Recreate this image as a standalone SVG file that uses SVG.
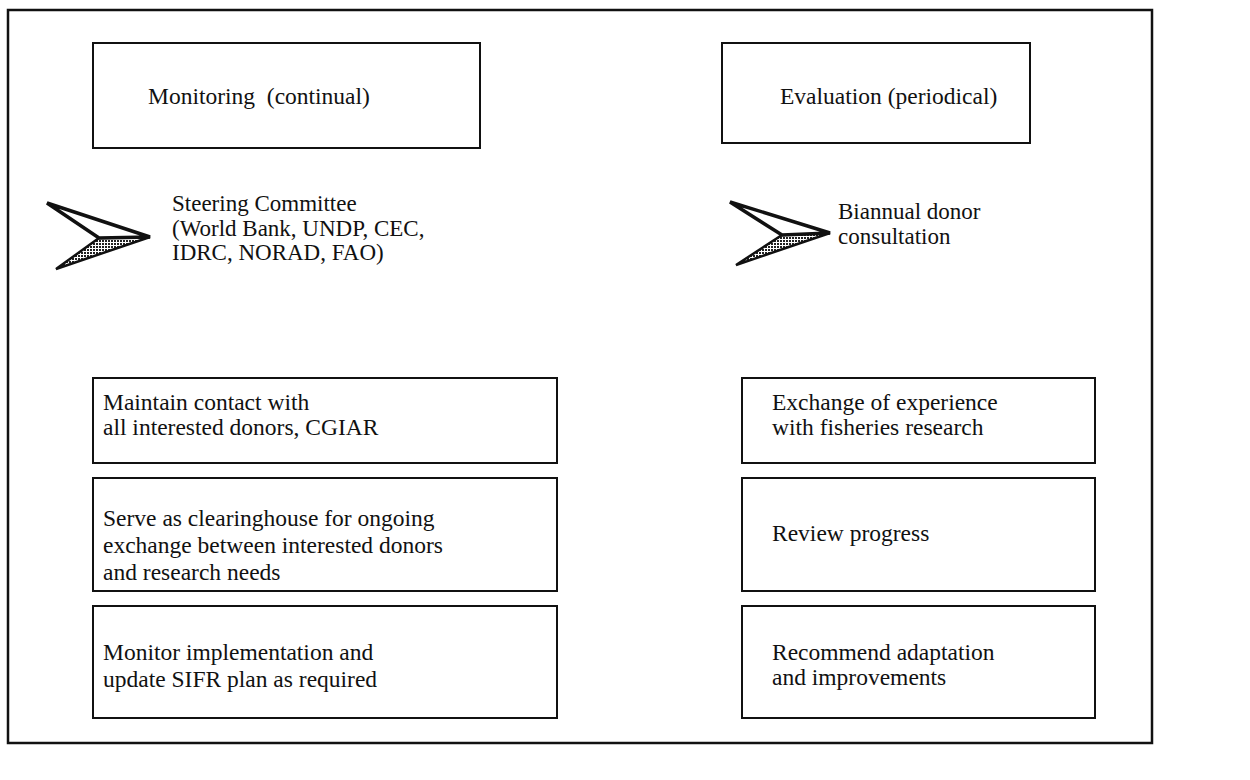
<svg xmlns="http://www.w3.org/2000/svg" width="1250" height="780" viewBox="0 0 1250 780">
<defs>
<pattern id="dots" width="3" height="3" patternUnits="userSpaceOnUse">
<rect width="3" height="3" fill="#fff"/>
<rect width="2" height="2" fill="#222"/>
</pattern>
<style>
.box{fill:#fff;stroke:#111;stroke-width:2}
.frame{fill:none;stroke:#111;stroke-width:2.5}
text{font-family:"Liberation Serif","Times New Roman",serif;font-size:23.5px;fill:#111}
.sm{font-size:23px}
.up{fill:#fff;stroke:#111;stroke-width:3.5;stroke-linejoin:miter}
.lo{fill:url(#dots);stroke:#111;stroke-width:2.5;stroke-linejoin:miter}
</style>
</defs>
<rect class="frame" x="8" y="10" width="1144" height="733"/>
<g id="monitoring">
<rect class="box" x="93" y="43" width="387" height="105"/>
<text x="148" y="104" xml:space="preserve">Monitoring  (continual)</text>
</g>
<g id="evaluation">
<rect class="box" x="722" y="43" width="308" height="100"/>
<text x="780" y="104">Evaluation (periodical)</text>
</g>
<g id="connectors">
<g id="arrow-left">
<polygon class="lo" points="99,238 150,237 56,269"/>
<polygon class="up" points="47,203 150,237 99,238"/>
</g>
<g id="arrow-right">
<polygon class="lo" points="782,235 830,233 736,265"/>
<polygon class="up" points="730,202 830,233 782,235"/>
</g>
</g>
<g id="steering">
<text class="sm" x="172" y="211">Steering Committee</text>
<text class="sm" x="172" y="235.5">(World Bank, UNDP, CEC,</text>
<text class="sm" x="172" y="260">IDRC, NORAD, FAO)</text>
</g>
<g id="biannual">
<text class="sm" x="838" y="219">Biannual donor</text>
<text class="sm" x="838" y="244">consultation</text>
</g>
<g id="maintain">
<rect class="box" x="93" y="378" width="464" height="85"/>
<text x="103" y="410">Maintain contact with</text>
<text x="103" y="435">all interested donors, CGIAR</text>
</g>
<g id="clearinghouse">
<rect class="box" x="93" y="478" width="464" height="113"/>
<text x="103" y="526">Serve as clearinghouse for ongoing</text>
<text x="103" y="553">exchange between interested donors</text>
<text x="103" y="580">and research needs</text>
</g>
<g id="monitor-impl">
<rect class="box" x="93" y="606" width="464" height="112"/>
<text x="103" y="660">Monitor implementation and</text>
<text x="103" y="687">update SIFR plan as required</text>
</g>
<g id="exchange">
<rect class="box" x="742" y="378" width="353" height="85"/>
<text x="772" y="410">Exchange of experience</text>
<text x="772" y="435">with fisheries research</text>
</g>
<g id="review">
<rect class="box" x="742" y="478" width="353" height="113"/>
<text x="772" y="541">Review progress</text>
</g>
<g id="recommend">
<rect class="box" x="742" y="606" width="353" height="112"/>
<text x="772" y="660">Recommend adaptation</text>
<text x="772" y="685">and improvements</text>
</g>
</svg>
